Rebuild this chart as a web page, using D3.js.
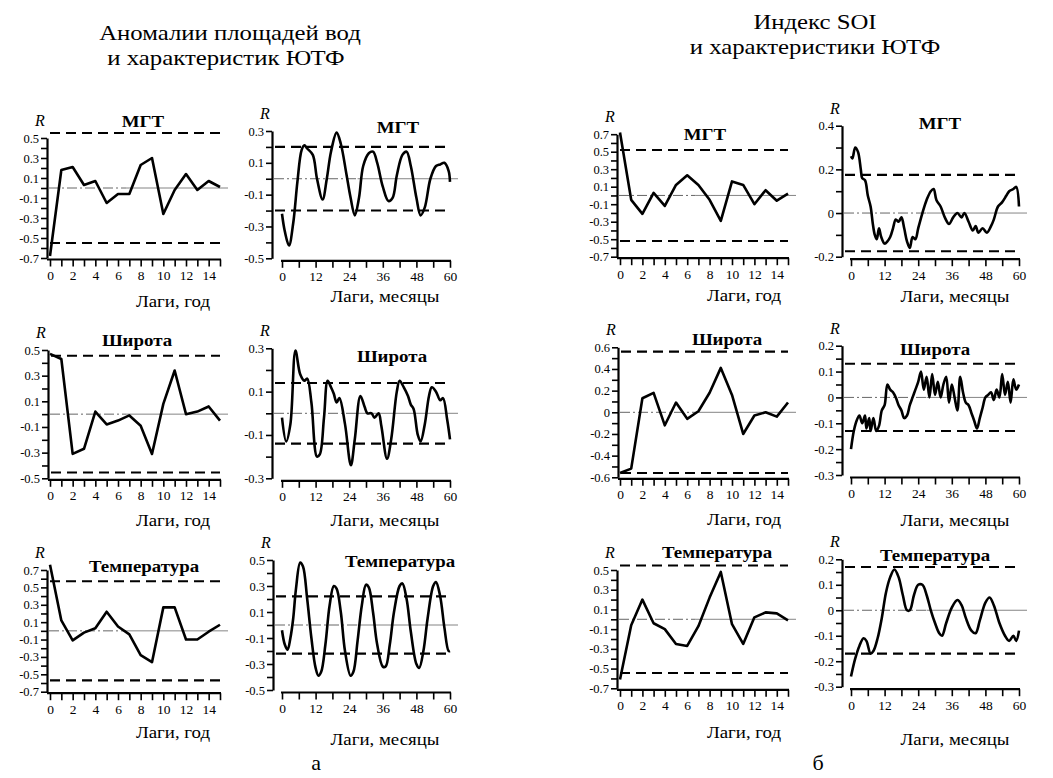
<!DOCTYPE html>
<html><head><meta charset="utf-8">
<script src="https://cdn.jsdelivr.net/npm/d3@7/dist/d3.min.js"></script>
<style>body{margin:0;background:#fff}text{font-family:"Liberation Serif","Times New Roman",serif;fill:#000}</style>
</head><body>
<svg id="c" width="1053" height="778"></svg>
<script>
// ---------------- DATA ----------------
const yearLags = d3.range(0, 16);
const yearTicks = d3.range(0, 16);
const yearLabels = [0, 2, 4, 6, 8, 10, 12, 14];
const monthTicks = d3.range(0, 61, 6);
const monthLabels = [0, 12, 24, 36, 48, 60];

const aMgtYear  = [-0.68, 0.18, 0.21, 0.03, 0.07, -0.15, -0.06, -0.06, 0.23, 0.30, -0.26, -0.02, 0.14, -0.02, 0.07, 0.01];
const aLatYear  = [0.47, 0.43, -0.31, -0.27, 0.02, -0.08, -0.05, -0.01, -0.09, -0.31, 0.08, 0.34, 0.00, 0.02, 0.06, -0.05];
const aTempYear = [0.76, 0.12, -0.11, -0.02, 0.03, 0.22, 0.05, -0.04, -0.28, -0.36, 0.27, 0.27, -0.10, -0.10, -0.01, 0.07];
const bMgtYear  = [0.72, -0.05, -0.21, 0.03, -0.12, 0.12, 0.23, 0.12, -0.05, -0.29, 0.16, 0.12, -0.10, 0.06, -0.06, 0.02];
const bLatYear  = [-0.56, -0.52, 0.13, 0.18, -0.12, 0.09, -0.06, 0.01, 0.18, 0.41, 0.16, -0.20, -0.03, 0.00, -0.04, 0.09];
const bTempYear = [-0.61, -0.06, 0.20, -0.04, -0.10, -0.25, -0.27, -0.07, 0.22, 0.48, -0.05, -0.25, 0.02, 0.07, 0.06, -0.01];

// monthly series: [lag (months), R]
const aMgtMon = [[0,-0.22],[1,-0.33],[2.5,-0.42],[4,-0.28],[5.5,-0.02],[7,0.18],[8,0.21],[9,0.19],[11,0.15],[12.5,0.0],[14.5,-0.13],[16,0.0],[17.5,0.17],[19.5,0.29],[21,0.22],[23,0.03],[24.5,-0.12],[26,-0.23],[27.5,-0.12],[29,0.08],[31,0.16],[32.5,0.17],[34,0.1],[36,-0.05],[38,-0.14],[39.5,-0.12],[41,0.02],[43,0.15],[44.5,0.17],[46,0.08],[48,-0.12],[49.5,-0.23],[51,-0.18],[53,0.0],[55,0.08],[56.5,0.09],[58,0.1],[59.5,0.05],[60,-0.02]];
const aLatMon = [[0,-0.02],[1.5,-0.13],[3,-0.05],[4.8,0.29],[6.5,0.18],[8,0.15],[9,0.16],[10.5,0.05],[12.5,-0.2],[13.5,-0.19],[15,-0.02],[16.3,0.15],[17.5,0.12],[18.5,0.09],[19.5,0.05],[20.5,0.07],[22.5,-0.05],[24.6,-0.24],[26,-0.12],[28,0.08],[29.5,0.03],[30.5,0.0],[32,0.0],[33,-0.02],[34.5,0.0],[35.5,-0.06],[37.5,-0.21],[39,-0.12],[41,0.1],[42,0.15],[43.5,0.12],[45,0.08],[46,0.04],[47,0.02],[48.5,-0.1],[49.5,-0.13],[51,-0.05],[52.5,0.08],[53.5,0.12],[55,0.1],[56.5,0.06],[57.5,0.07],[59,-0.03],[60,-0.12]];
const aTempMon = [[0,-0.04],[1,-0.15],[2,-0.19],[3,-0.1],[4,0.05],[5,0.28],[6.5,0.48],[7.5,0.45],[9,0.2],[10.5,-0.1],[12,-0.33],[13,-0.39],[14,-0.36],[15.5,-0.15],[17,0.15],[18.5,0.3],[19.5,0.28],[21,0.1],[22.5,-0.2],[24.5,-0.39],[25.5,-0.36],[27,-0.12],[28.5,0.15],[30,0.31],[31,0.29],[32.5,0.1],[34,-0.15],[36,-0.32],[37,-0.32],[38.5,-0.15],[40,0.1],[42,0.3],[43,0.32],[44.5,0.2],[46,-0.05],[48,-0.3],[49,-0.33],[50.5,-0.2],[52,0.05],[54,0.3],[55,0.33],[56.5,0.22],[58,-0.02],[59.5,-0.2],[60,-0.2]];
const bMgtMon = [[0,0.26],[0.5,0.25],[1.5,0.3],[2.5,0.28],[3.5,0.2],[4,0.16],[5,0.15],[6,0.08],[7,0.03],[7.8,-0.05],[8.5,-0.1],[9.2,-0.12],[10,-0.07],[10.8,-0.11],[12,-0.14],[13,-0.13],[14,-0.11],[15,-0.07],[16,-0.03],[17,-0.04],[18,-0.02],[19,-0.07],[20,-0.13],[21,-0.16],[22,-0.11],[23,-0.12],[24,-0.07],[25.5,0.0],[27,0.06],[28.5,0.1],[29.5,0.11],[30.5,0.06],[32,0.03],[33.5,-0.02],[35,-0.05],[36.5,-0.02],[38,0.0],[39.5,-0.02],[40.5,0.0],[42,-0.04],[43.5,-0.08],[44.5,-0.06],[45.5,-0.09],[47,-0.07],[48.5,-0.09],[50,-0.06],[51,-0.03],[52.5,0.03],[54,0.05],[55.5,0.08],[56.5,0.1],[58,0.11],[59,0.12],[60,0.03]];
const bLatMon = [[0,-0.2],[1,-0.13],[2,-0.09],[3,-0.07],[4,-0.1],[5,-0.07],[5.5,-0.12],[6.5,-0.08],[7,-0.13],[8,-0.08],[9,-0.13],[10,-0.11],[11,-0.05],[12,-0.03],[13,0.05],[14,0.03],[15,0.02],[16,0.0],[17,-0.03],[18,-0.05],[19,-0.08],[20,-0.07],[21,-0.03],[22,0.0],[23,0.03],[24,0.06],[25,0.1],[26,0.03],[27,0.08],[28,0.0],[29,0.09],[30,0.01],[31,0.06],[32,0.0],[33,0.05],[34,0.08],[35,-0.02],[36,0.05],[37,0.0],[38,-0.05],[39,0.08],[40,0.02],[41,-0.02],[42,-0.03],[43,-0.06],[44,-0.09],[45,-0.12],[46,-0.08],[47,-0.04],[48,0.0],[49,0.01],[50,0.02],[51,-0.01],[52,0.03],[53,0.0],[54,0.09],[55,0.01],[56,0.06],[57,-0.02],[58,0.07],[59,0.03],[60,0.05]];
const bTempMon = [[0,-0.26],[1.5,-0.19],[3,-0.14],[4.5,-0.11],[5.5,-0.12],[7,-0.17],[8,-0.16],[9.5,-0.11],[11,-0.03],[12.5,0.07],[14,0.13],[15.5,0.16],[17,0.13],[18.5,0.06],[20,0.0],[21,0.0],[22.5,0.06],[24,0.1],[25.5,0.1],[27,0.06],[28.5,0.0],[30,-0.05],[31.5,-0.09],[32.5,-0.1],[34,-0.05],[36,0.01],[38,0.04],[39.5,0.02],[41,-0.03],[43,-0.08],[44.5,-0.09],[46,-0.04],[48,0.03],[49.5,0.05],[51,0.02],[53,-0.05],[55,-0.1],[56.5,-0.12],[58,-0.1],[59,-0.12],[60,-0.08]];

// significance levels (dashed lines)
const critLevels = {aMgtY:0.55, aMgtM:0.2, aLatY:0.455, aLatM:0.14, aTempY:0.57, aTempM:0.22,
                    bMgtY:0.52, bMgtM:0.175, bLatY:0.56, bLatM:0.13, bTempY:0.545, bTempM:0.17};

const titleA = ["Аномалии площадей вод", "и характеристик ЮТФ"];
const titleB = ["Индекс SOI", "и характеристики ЮТФ"];
const xTitleYear = "Лаги, год";
const xTitleMonth = "Лаги, месяцы";

// ---------------- LAYOUT ----------------
const svg = d3.select("#c");
const toPairs = arr => arr.map((v, i) => [yearLags[i], v]);
const SX = 1.18; // horizontal stretch of the scanned lettering

function label(parent, x, y, txt, size, opts = {}) {
  return parent.append("text")
    .attr("transform", `translate(${x},${y}) scale(${opts.sx || SX},1)`)
    .attr("text-anchor", opts.anchor || "middle")
    .attr("font-size", size)
    .attr("font-weight", opts.bold ? "bold" : null)
    .attr("font-style", opts.italic ? "italic" : null)
    .text(txt);
}

const panels = [
  {title:"МГТ", data:toPairs(aMgtYear), crit:critLevels.aMgtY, kind:"y", axisX:47, xr:[50,220], yd:[-0.7,0.5], yr:[258,138], lab:0.2, minor:0.1, tx:143, ty:122, xl:[173,302]},
  {title:"МГТ", data:aMgtMon, crit:critLevels.aMgtM, kind:"m", axisX:272, xr:[282,450], yd:[-0.5,0.3], yr:[258.3,131], lab:0.2, minor:0.1, tx:398, ty:128, xl:[385,297]},
  {title:"Широта", data:toPairs(aLatYear), crit:critLevels.aLatY, kind:"y", axisX:48, xr:[50,220], yd:[-0.5,0.5], yr:[478.3,350], lab:0.2, minor:0.1, tx:137, ty:341, xl:[173,521]},
  {title:"Широта", data:aLatMon, crit:critLevels.aLatM, kind:"m", axisX:272, xr:[282,450], yd:[-0.3,0.3], yr:[478.3,348.3], lab:0.2, minor:0.1, tx:392, ty:357, xl:[385,521]},
  {title:"Температура", data:toPairs(aTempYear), crit:critLevels.aTempY, kind:"y", axisX:47, xr:[50,220], yd:[-0.7,0.7], yr:[691.7,570], lab:0.2, minor:0.1, tx:144, ty:567, xl:[173,733]},
  {title:"Температура", data:aTempMon, crit:critLevels.aTempM, kind:"m", axisX:273, xr:[282,450], yd:[-0.5,0.5], yr:[690,560], lab:0.2, minor:0.1, tx:400, ty:562, xl:[385,740]},
  {title:"МГТ", data:toPairs(bMgtYear), crit:critLevels.bMgtY, kind:"y", axisX:617, xr:[620,788], yd:[-0.7,0.7], yr:[256.7,134.2], lab:0.2, minor:0.1, tx:705, ty:135, xl:[744,296]},
  {title:"МГТ", data:bMgtMon, crit:critLevels.bMgtM, kind:"m", axisX:842, xr:[851,1019], yd:[-0.2,0.4], yr:[256.7,125.7], lab:0.2, minor:0.1, tx:940, ty:124, xl:[955,297]},
  {title:"Широта", data:toPairs(bLatYear), crit:critLevels.bLatY, kind:"y", axisX:618, xr:[620,788], yd:[-0.6,0.6], yr:[477.3,347.3], lab:0.2, minor:0.1, tx:727, ty:340, xl:[744,520]},
  {title:"Широта", data:bLatMon, crit:critLevels.bLatM, kind:"m", axisX:842, xr:[851,1019], yd:[-0.3,0.2], yr:[475,345.7], lab:0.1, minor:0.05, tx:935, ty:350, xl:[955,521]},
  {title:"Температура", data:toPairs(bTempYear), crit:critLevels.bTempY, kind:"y", axisX:617, xr:[620,788], yd:[-0.7,0.5], yr:[688.3,570], lab:0.2, minor:0.1, tx:717, ty:553, xl:[744,733]},
  {title:"Температура", data:bTempMon, crit:critLevels.bTempM, kind:"m", axisX:842, xr:[851,1019], yd:[-0.3,0.2], yr:[686.7,559.3], lab:0.1, minor:0.05, tx:935, ty:556, xl:[955,740]}
];

const near = (a, b) => Math.abs(a - b) < 1e-6;
const fmt = d => near(d, 0) ? "0" : String(+d.toFixed(2));

function drawPanel(p) {
  const g = svg.append("g");
  const xMax = p.kind === "y" ? 15 : 60;
  const x = d3.scaleLinear().domain([0, xMax]).range(p.xr);
  const y = d3.scaleLinear().domain(p.yd).range(p.yr);

  // zero reference line: dash-dot on the left, thin solid on the right
  const zx = p.xr[0] + (p.xr[1] - p.xr[0]) * 0.45;
  g.append("line").attr("x1", p.axisX + 2).attr("x2", zx)
    .attr("y1", y(0)).attr("y2", y(0))
    .attr("stroke", "#555").attr("stroke-width", 0.9).attr("stroke-dasharray", "10,3,2,3");
  g.append("line").attr("x1", zx).attr("x2", p.xr[1] + 8)
    .attr("y1", y(0)).attr("y2", y(0))
    .attr("stroke", "#777").attr("stroke-width", 0.9);

  // significance dashed lines
  [p.crit, -p.crit].forEach(c => {
    g.append("line").attr("x1", p.axisX + 3).attr("x2", p.xr[1])
      .attr("y1", y(c)).attr("y2", y(c))
      .attr("stroke", "#000").attr("stroke-width", 2.1).attr("stroke-dasharray", "10,6");
  });

  // Y axis
  const nMinor = Math.round((p.yd[1] - p.yd[0]) / p.minor);
  const minorVals = d3.range(nMinor + 1).map(i => +(p.yd[1] - i * p.minor).toFixed(3));
  const nLab = Math.round((p.yd[1] - p.yd[0]) / p.lab);
  const labVals = d3.range(nLab + 1).map(i => +(p.yd[1] - i * p.lab).toFixed(3));
  const yAxis = d3.axisLeft(y).tickValues(minorVals).tickSize(6).tickSizeOuter(0)
    .tickFormat(d => labVals.some(l => near(l, d)) ? fmt(d) : "");
  const ya = g.append("g").attr("transform", `translate(${p.axisX},0)`).call(yAxis);
  ya.select(".domain").attr("stroke-width", 2.2);
  ya.selectAll(".tick line").attr("stroke-width", 1.6);
  ya.selectAll(".tick text").attr("font-size", 12.5).attr("font-family", "Liberation Serif").attr("x", -8);

  // X axis
  const xAxisY = p.yr[0] + (p.kind === "y" ? 1.5 : 2.5);
  const xt = p.kind === "y" ? yearTicks : monthTicks;
  const xl = p.kind === "y" ? yearLabels : monthLabels;
  const xAxis = d3.axisBottom(x).tickValues(xt).tickSize(7).tickSizeOuter(0)
    .tickFormat(d => xl.includes(d) ? String(d) : "");
  const xa = g.append("g").attr("transform", `translate(0,${xAxisY})`).call(xAxis);
  xa.select(".domain").attr("stroke-width", 2.2)
    .attr("d", `M${p.kind === "y" ? p.axisX : p.xr[0] - 1},0H${p.xr[1] + 1}`);
  xa.selectAll(".tick line").attr("stroke-width", 1.6);
  xa.selectAll(".tick text").attr("font-size", 13.5).attr("font-family", "Liberation Serif").attr("y", 11);

  // data line
  const line = d3.line().x(d => x(d[0])).y(d => y(d[1]))
    .curve(p.kind === "y" ? d3.curveLinear : d3.curveCatmullRom.alpha(0.5));
  g.append("path").datum(p.data).attr("d", line).attr("fill", "none")
    .attr("stroke", "#000").attr("stroke-width", 2.6).attr("stroke-linejoin", "round");

  // labels
  label(g, p.axisX - 7, p.yr[1] - 12, "R", 16, {italic: true, sx: 1});
  label(g, p.tx, p.ty + 5, p.title, 16, {bold: true});
  label(g, p.xl[0], p.xl[1] + 5, p.kind === "y" ? xTitleYear : xTitleMonth, 16);
}

panels.forEach(drawPanel);

// group titles and sub-figure letters
label(svg, 230, 40, titleA[0], 21);
label(svg, 226, 65, titleA[1], 21);
label(svg, 815, 29, titleB[0], 21);
label(svg, 815, 54, titleB[1], 21);
label(svg, 316, 770, "а", 22, {sx: 1});
label(svg, 818, 770, "б", 22, {sx: 1});
</script>
</body></html>
